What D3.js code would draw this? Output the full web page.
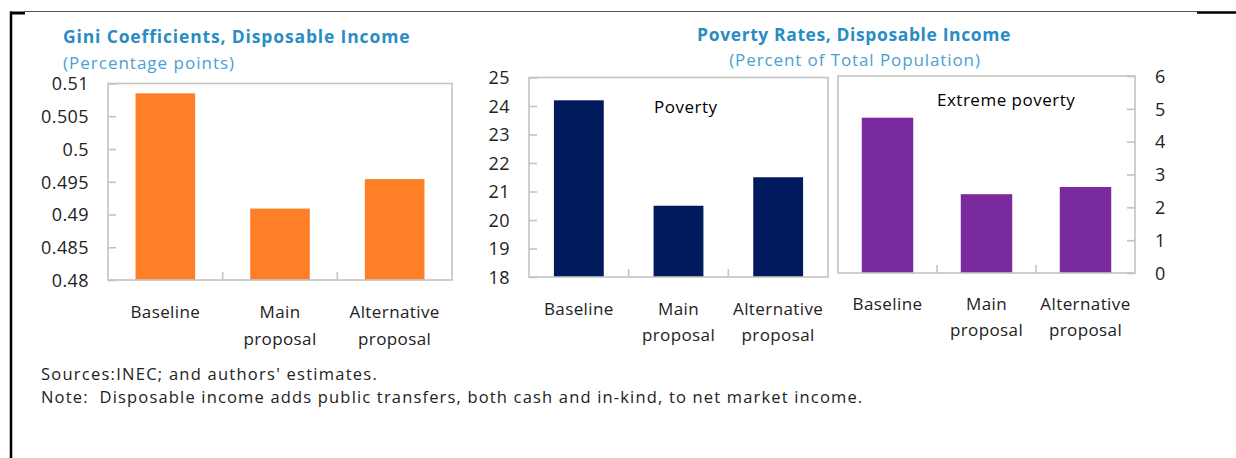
<!DOCTYPE html>
<html>
<head>
<meta charset="utf-8">
<script src="https://cdn.jsdelivr.net/npm/d3@7"></script>
<style>
	body { margin: 0; background: #fff; }
	svg { display: block; font-family: "Open Sans", "Noto Sans", sans-serif; }
</style>
</head>
<body>
<svg id="chart"></svg>
<script>
'use strict'

var WIDTH = 1236,
	HEIGHT = 458;

// data
var categories = [["Baseline"], ["Main", "proposal"], ["Alternative", "proposal"]];
var giniValues = [0.5085, 0.4909, 0.4954];
var povertyValues = [24.2, 20.5, 21.5];
var extremeValues = [4.73, 2.40, 2.62];

var giniTicks = [0.48, 0.485, 0.49, 0.495, 0.5, 0.505, 0.51];
var povertyTicks = [18, 19, 20, 21, 22, 23, 24, 25];
var extremeTicks = [0, 1, 2, 3, 4, 5, 6];

var titleColor = "#2a8cc5",
	subColor = "#4a9fd3",
	frameColor = "#c3c3c3",
	textColor = "#222";

var svg = d3.select("#chart")
	.attr("width", WIDTH)
	.attr("height", HEIGHT);

// outer border of the figure box
svg.append("line").attr("x1", 25).attr("x2", 1197).attr("y1", 11.5).attr("y2", 11.5)
	.style("stroke", "#555").style("stroke-width", 1);
svg.append("line").attr("x1", 10).attr("x2", 25).attr("y1", 13).attr("y2", 13)
	.style("stroke", "#000").style("stroke-width", 3);
svg.append("line").attr("x1", 1197).attr("x2", WIDTH).attr("y1", 12.5).attr("y2", 12.5)
	.style("stroke", "#000").style("stroke-width", 2.5);
svg.append("line").attr("x1", 11).attr("x2", 11).attr("y1", 11.5).attr("y2", HEIGHT)
	.style("stroke", "#000").style("stroke-width", 2.5);

function panel(opts) {
	var g = svg.append("g");

	var x = d3.scaleBand()
		.domain(d3.range(categories.length))
		.range([opts.x0, opts.x1])
		.paddingInner(opts.pad)
		.paddingOuter(opts.pad / 2);

	var y = d3.scaleLinear()
		.domain(opts.domain)
		.range([opts.y0, opts.y1]);

	// bars
	g.selectAll("rect.bar")
		.data(opts.values)
		.enter().append("rect")
		.attr("class", "bar")
		.attr("x", function(d, i) { return x(i); })
		.attr("width", x.bandwidth())
		.attr("y", function(d) { return y(d); })
		.attr("height", function(d) { return y(opts.domain[0]) - y(d); })
		.style("fill", opts.color);

	// plot frame
	g.append("rect")
		.attr("x", opts.x0)
		.attr("y", opts.y1)
		.attr("width", opts.x1 - opts.x0)
		.attr("height", opts.y0 - opts.y1)
		.style("fill", "none")
		.style("stroke", frameColor)
		.style("stroke-width", 1.6);

	// value axis, ticks pointing inward
	var axisX = opts.right ? opts.x1 : opts.x0;
	var axis = (opts.right ? d3.axisLeft(y) : d3.axisRight(y))
		.tickValues(opts.ticks)
		.tickSize(8)
		.tickFormat(function(d) { return String(+d.toFixed(3)); });

	var ax = g.append("g")
		.attr("transform", "translate(" + axisX + ",0)")
		.call(axis);
	ax.select(".domain").remove();
	ax.selectAll(".tick line").style("stroke", frameColor).style("stroke-width", 1.6);
	ax.selectAll(".tick text")
		.attr("x", opts.right ? 20 : -19)
		.attr("dy", "0.35em")
		.style("text-anchor", opts.right ? "start" : "end")
		.style("font-size", "18px")
		.style("letter-spacing", "0.4px")
		.style("font-family", "Open Sans")
		.style("fill", textColor);

	// category separators on the bottom line
	var step = x.step();
	g.selectAll("line.sep")
		.data(d3.range(1, categories.length))
		.enter().append("line")
		.attr("x1", function(i) { return x(i) - step * opts.pad / 2; })
		.attr("x2", function(i) { return x(i) - step * opts.pad / 2; })
		.attr("y1", opts.y0)
		.attr("y2", opts.y0 - 8)
		.style("stroke", frameColor)
		.style("stroke-width", 1.6);

	// category labels
	var labels = g.selectAll("text.cat")
		.data(categories)
		.enter().append("text")
		.attr("class", "cat")
		.attr("text-anchor", "middle")
		.style("font-size", "17px")
		.style("letter-spacing", "0.4px")
		.style("fill", textColor);
	labels.selectAll("tspan")
		.data(function(d, i) { return d.map(function(s) { return { s: s, i: i }; }); })
		.enter().append("tspan")
		.attr("x", function(d) { return x(d.i) + x.bandwidth() / 2; })
		.attr("y", function(d, j) { return opts.labelY + j * opts.lineGap; })
		.text(function(d) { return d.s; });

	if (opts.label) {
		g.append("text")
			.attr("x", opts.label[1])
			.attr("y", opts.label[2])
			.style("font-size", "17px")
			.style("letter-spacing", "0.5px")
			.style("fill", "#000")
			.text(opts.label[0]);
	}
}

// Gini panel
svg.append("text")
	.attr("x", 63).attr("y", 43)
	.style("font-size", "17.5px").style("font-weight", "bold")
	.style("fill", titleColor).style("letter-spacing", "0.85px")
	.text("Gini Coefficients, Disposable Income");
svg.append("text")
	.attr("x", 63).attr("y", 69)
	.style("font-size", "17px")
	.style("fill", subColor).style("letter-spacing", "1px")
	.text("(Percentage points)");

panel({
	values: giniValues, ticks: giniTicks, domain: [0.48, 0.51],
	x0: 108, x1: 452, y0: 280, y1: 83.5, pad: 0.48,
	color: "#ff7f27", labelY: 318, lineGap: 27
});

// Poverty panels
svg.append("text")
	.attr("x", 854).attr("y", 41)
	.attr("text-anchor", "middle")
	.style("font-size", "17.5px").style("font-weight", "bold")
	.style("fill", titleColor).style("letter-spacing", "0.6px")
	.text("Poverty Rates, Disposable Income");
svg.append("text")
	.attr("x", 855).attr("y", 66)
	.attr("text-anchor", "middle")
	.style("font-size", "17px")
	.style("fill", subColor).style("letter-spacing", "0.9px")
	.text("(Percent of Total Population)");

panel({
	values: povertyValues, ticks: povertyTicks, domain: [18, 25],
	x0: 529, x1: 828, y0: 277, y1: 77.5, pad: 0.5,
	color: "#011a5e", labelY: 315, lineGap: 26,
	label: ["Poverty", 654, 113]
});

panel({
	values: extremeValues, ticks: extremeTicks, domain: [0, 6],
	x0: 838, x1: 1135, y0: 273, y1: 76, pad: 0.48, right: true,
	color: "#7a2a9f", labelY: 310, lineGap: 26,
	label: ["Extreme poverty", 937, 106]
});

// notes
svg.append("text")
	.attr("x", 41).attr("y", 380)
	.style("font-size", "16.5px").style("fill", textColor)
	.style("letter-spacing", "1.25px")
	.text("Sources:INEC; and authors' estimates.");
svg.append("text")
	.attr("x", 41).attr("y", 403)
	.style("font-size", "16.5px").style("fill", textColor)
	.style("letter-spacing", "1.17px")
	.style("white-space", "pre")
	.text("Note:  Disposable income adds public transfers, both cash and in-kind, to net market income.");
</script>
</body>
</html>
